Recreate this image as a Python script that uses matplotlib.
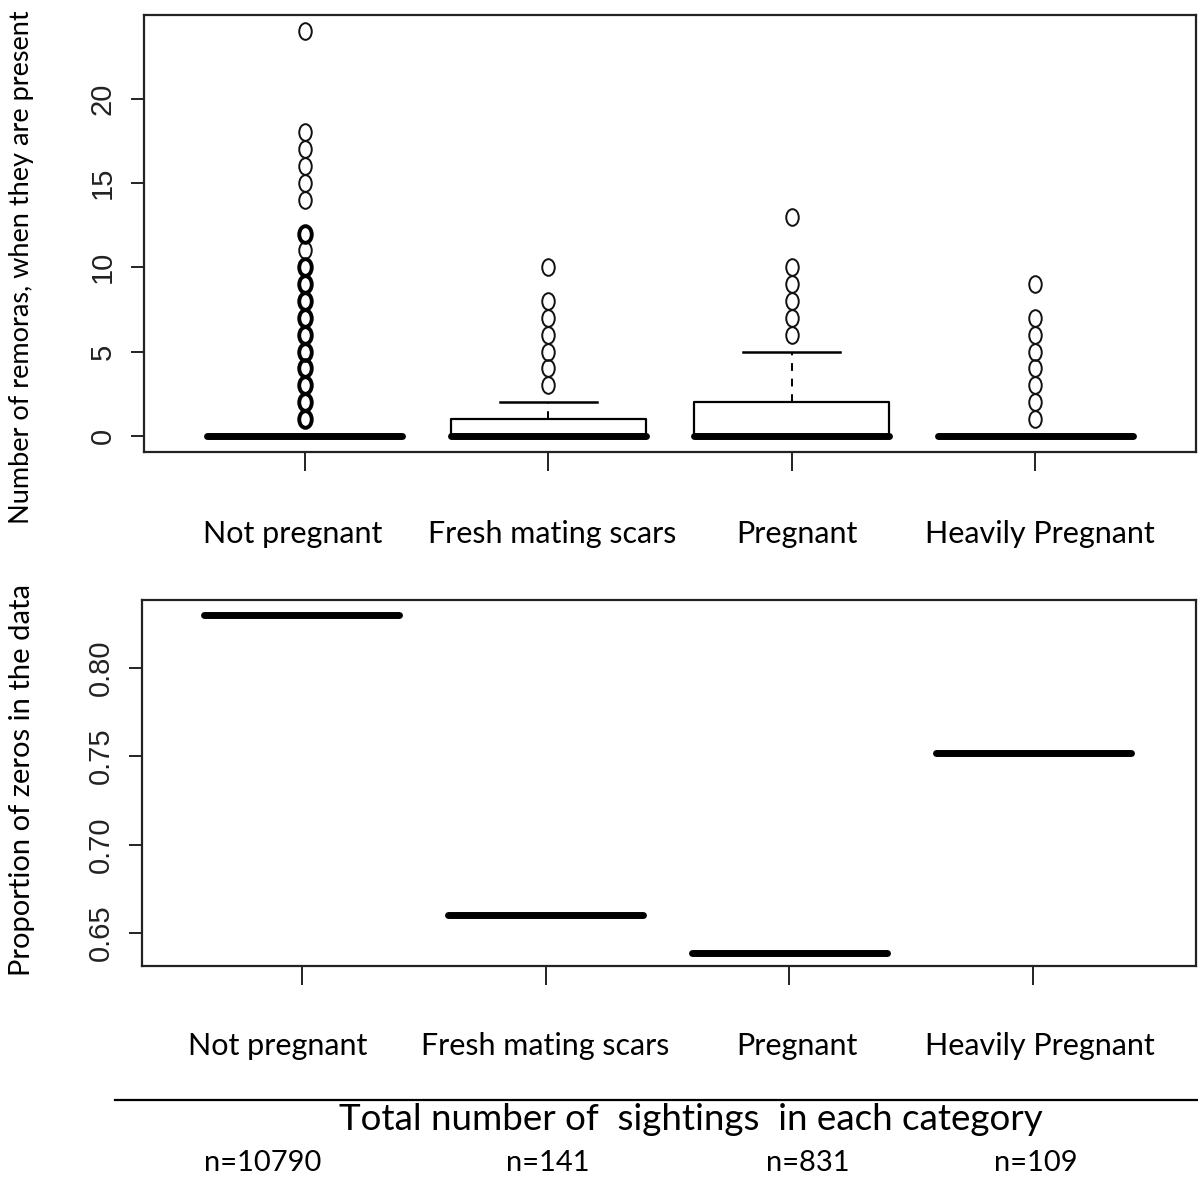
import numpy as np
import matplotlib.pyplot as plt
from matplotlib.path import Path
from matplotlib.transforms import Affine2D

# categories and sample sizes
categories = ["Not pregnant", "Fresh mating scars", "Pregnant", "Heavily Pregnant"]
n_sightings = [10790, 141, 831, 109]

# box summaries for number of remoras
q1 = [0, 0, 0, 0]
medians = [0, 0, 0, 0]
q3 = [0, 1, 2, 0]
whisk_lo = [0, 0, 0, 0]
whisk_hi = [0, 2, 5, 0]
outliers = [
    [1, 2, 3, 4, 5, 6, 7, 8, 9, 10, 11, 12, 14, 15, 16, 17, 18, 24],
    [3, 4, 5, 6, 7, 8, 10],
    [6, 7, 8, 9, 10, 13],
    [1, 2, 3, 4, 5, 6, 7, 9],
]
# values that look over-plotted (drawn heavier) in the first group
heavy_not_pregnant = [1, 2, 3, 4, 5, 6, 7, 8, 9, 10, 12]

# proportion of zeros per category
prop_zeros = [0.830, 0.660, 0.639, 0.752]

main_font = "Lato"
tick_font = "Liberation Sans"

# slightly tall open circle, like the stretched R pch=1
ring = Path.unit_circle().transformed(Affine2D().scale(0.75, 1.0))

fig = plt.figure(figsize=(11.98, 11.91), dpi=100)
ax1 = fig.add_axes([144 / 1198, 1 - 452 / 1191, 1052 / 1198, 437 / 1191])
ax2 = fig.add_axes([142 / 1198, 1 - 966 / 1191, 1054 / 1198, 366 / 1191])

pos = np.arange(1, 5)

def style_axes(ax):
    for s in ax.spines.values():
        s.set_linewidth(1.6)
        s.set_color("#222222")
    ax.tick_params(axis="x", length=14, width=1.4, color="#222222", labelbottom=False)
    ax.tick_params(axis="y", length=9.5, width=1.4, color="#222222", labelrotation=90,
                   pad=10, labelsize=21, labelcolor="#222222")
    for lab in ax.get_yticklabels():
        lab.set_fontfamily(tick_font)
        lab.set_verticalalignment("center")

# top panel: boxplots
stats = []
for i in range(4):
    stats.append(dict(med=medians[i], q1=q1[i], q3=q3[i],
                      whislo=whisk_lo[i], whishi=whisk_hi[i], fliers=[]))
ax1.bxp(stats, positions=pos, widths=0.8, capwidths=0.4, showfliers=False,
        boxprops=dict(color="black", linewidth=1.6),
        whiskerprops=dict(color="black", linewidth=1.4, linestyle=(0, (4, 4))),
        capprops=dict(color="black", linewidth=1.8),
        medianprops=dict(color="black", linewidth=5, solid_capstyle="round"))
for i in range(4):
    vals = np.array(outliers[i])
    ax1.plot(np.full(len(vals), pos[i]), vals, linestyle="none", marker=ring,
             markersize=12, markerfacecolor="none", markeredgecolor="#111111",
             markeredgewidth=1.4)
heavy = np.array(heavy_not_pregnant)
ax1.plot(np.full(len(heavy), pos[0]), heavy, linestyle="none", marker=ring,
         markersize=12, markerfacecolor="none", markeredgecolor="black",
         markeredgewidth=2.8)
ax1.set_xlim(0.34, 4.66)
ax1.set_ylim(-0.96, 24.96)
ax1.set_yticks([0, 5, 10, 15, 20])
ax1.set_xticks(pos)
style_axes(ax1)

# bottom panel: proportion of zeros
stats2 = []
for v in prop_zeros:
    stats2.append(dict(med=v, q1=v, q3=v, whislo=v, whishi=v, fliers=[]))
ax2.bxp(stats2, positions=pos, widths=0.8, showfliers=False, showcaps=False,
        boxprops=dict(color="black", linewidth=1.0),
        whiskerprops=dict(linewidth=0),
        medianprops=dict(color="black", linewidth=5, solid_capstyle="round"))
ax2.set_xlim(0.344, 4.668)
ax2.set_ylim(0.6314, 0.8382)
ax2.set_yticks([0.65, 0.70, 0.75, 0.80])
ax2.set_yticklabels(["0.65", "0.70", "0.75", "0.80"])
ax2.set_xticks(pos)
style_axes(ax2)

# y axis titles
fig.text(22 / 1198, 1 - 267 / 1191, "Number of remoras, when they are present",
         rotation=90, ha="center", va="center", fontsize=19.5, fontfamily=main_font)
fig.text(22 / 1198, 1 - 780 / 1191, "Proportion of zeros in the data",
         rotation=90, ha="center", va="center", fontsize=21, fontfamily=main_font)

# category labels under each panel
top_x = [293, 552, 797, 1040]
bot_x = [278, 545, 797, 1040]
for name, xt, xb in zip(categories, top_x, bot_x):
    fig.text(xt / 1198, 1 - 534 / 1191, name, ha="center", va="center",
             fontsize=22, fontfamily=main_font)
    fig.text(xb / 1198, 1 - 1046 / 1191, name, ha="center", va="center",
             fontsize=22, fontfamily=main_font)

# sample size footer
fig.add_artist(plt.Line2D([115 / 1198, 1.0], [1 - 1100 / 1191] * 2,
                          color="black", linewidth=1.6))
fig.text(691 / 1198, 1 - 1120 / 1191, "Total number of  sightings  in each category",
         ha="center", va="center", fontsize=26.5, fontfamily=main_font)
n_x = [263, 548, 808, 1036]
for n, xx in zip(n_sightings, n_x):
    fig.text(xx / 1198, 1 - 1163 / 1191, f"n={n}", ha="center", va="center",
             fontsize=21, fontfamily=main_font)

fig.savefig("out.png", dpi=100, facecolor="white")
